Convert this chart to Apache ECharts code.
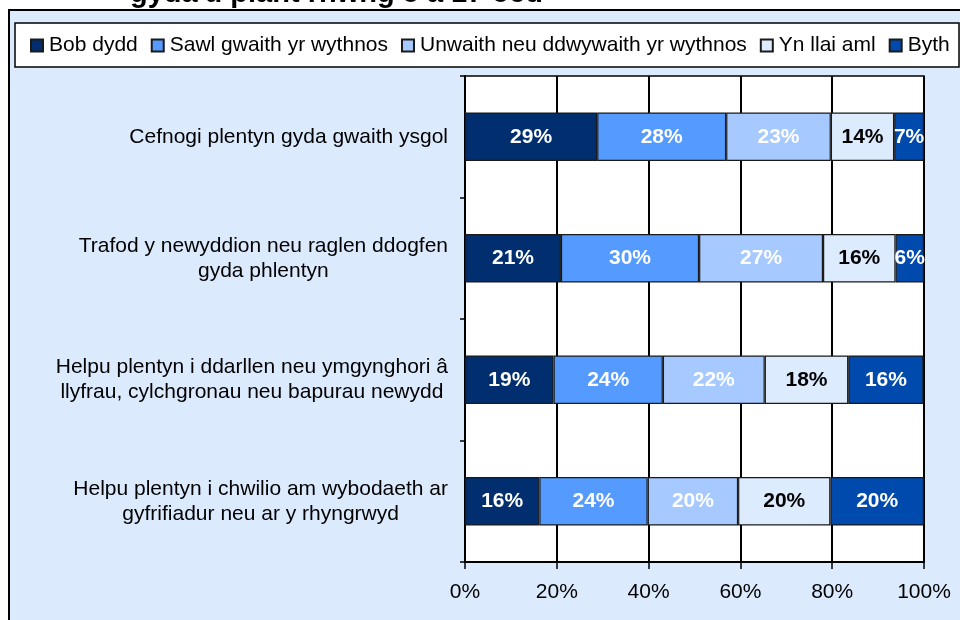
<!DOCTYPE html>
<html>
<head>
<meta charset="utf-8">
<script src="https://cdn.jsdelivr.net/npm/echarts@6/dist/echarts.min.js"></script>
<style>html,body{margin:0;padding:0;background:#fff;}#c{width:960px;height:620px;}</style>
</head>
<body>
<div id="c"></div>
<script>
const titleText = "gyda'u plant rhwng 5 a 17 oed";
const categories = [
  'Cefnogi plentyn gyda gwaith ysgol',
  'Trafod y newyddion neu raglen ddogfen\ngyda phlentyn',
  'Helpu plentyn i ddarllen neu ymgynghori â\nllyfrau, cylchgronau neu bapurau newydd',
  'Helpu plentyn i chwilio am wybodaeth ar\ngyfrifiadur neu ar y rhyngrwyd'
];
const seriesNames = ['Bob dydd', 'Sawl gwaith yr wythnos', 'Unwaith neu ddwywaith yr wythnos', 'Yn llai aml', 'Byth'];
const bobDydd = [28.8, 20.9, 19.3, 16.2];
const sawlGwaith = [28.1, 30.1, 23.8, 23.6];
const unwaith = [22.8, 27.0, 22.2, 19.7];
const ynLlaiAml = [13.8, 15.8, 18.2, 20.1];
const byth = [6.5, 6.2, 16.4, 20.4];
const xTicks = [0, 20, 40, 60, 80, 100];

const colors = ['#002E6E', '#559BFF', '#A6C9FF', '#DDEBFF', '#0049AD'];
const labelColors = ['#fff', '#fff', '#fff', '#000', '#fff'];
const values = [bobDydd, sawlGwaith, unwaith, ynLlaiAml, byth];
const FONT = "'Liberation Sans', Arial, sans-serif";

const chart = echarts.init(document.getElementById('c'), null, {renderer: 'canvas'});
chart.setOption({
  backgroundColor: '#ffffff',
  animation: false,
  title: {
    text: titleText,
    left: 130,
    top: -21,
    padding: 0,
    textStyle: {fontFamily: FONT, fontSize: 29, fontWeight: 'bold', color: '#000'}
  },
  graphic: [
    {type: 'rect', z: -10, shape: {x: 9, y: 10, width: 960, height: 620},
     style: {fill: '#DCEAFE', stroke: '#000', lineWidth: 2}},
    {type: 'rect', z: -5, shape: {x: 15, y: 23, width: 944, height: 44},
     style: {fill: '#ffffff', stroke: '#000', lineWidth: 1.5}}
  ],
  legend: {
    data: seriesNames,
    left: 30,
    top: 35,
    width: 1000,
    padding: 0,
    itemGap: 13,
    itemWidth: 12,
    itemHeight: 12,
    icon: 'rect',
    textStyle: {fontFamily: FONT, fontSize: 21, color: '#000', padding: [0, 0, 0, 1]}
  },
  grid: {
    left: 465, right: 36, top: 76, bottom: 58,
    show: true, backgroundColor: '#ffffff', borderColor: '#000', borderWidth: 1.5
  },
  xAxis: {
    type: 'value', min: 0, max: 100, interval: 20,
    axisLine: {show: true, lineStyle: {color: '#000', width: 2}},
    axisTick: {show: true, length: 7, lineStyle: {color: '#000', width: 1.5}},
    splitLine: {show: true, lineStyle: {color: '#000', width: 2}},
    axisLabel: {
      margin: 20, fontFamily: FONT, fontSize: 21, color: '#000',
      formatter: v => (xTicks.indexOf(v) >= 0 ? v + '%' : '')
    }
  },
  yAxis: {
    type: 'category', inverse: true, data: categories,
    axisLine: {show: true, lineStyle: {color: '#000', width: 2}},
    axisTick: {show: true, length: 5, lineStyle: {color: '#000', width: 1.5}},
    splitLine: {show: false},
    axisLabel: {
      margin: 17, fontFamily: FONT, fontSize: 21, color: '#000',
      formatter: v => v.split('\n').map(l => '{c|' + l + '}').join('\n'),
      rich: {c: {align: 'center', fontFamily: FONT, fontSize: 21, lineHeight: 25, color: '#000'}}
    }
  },
  series: seriesNames.map((name, i) => ({
    name: name,
    type: 'bar',
    stack: 'total',
    barWidth: '40%',
    data: values[i],
    itemStyle: {color: colors[i], borderColor: '#1a1a1a', borderWidth: 1.2},
    label: {
      show: true, position: 'inside',
      fontFamily: FONT, fontSize: 21, fontWeight: 'bold', color: labelColors[i],
      formatter: p => Math.round(p.value) + '%'
    },
    emphasis: {disabled: true}
  }))
});
</script>
</body>
</html>
